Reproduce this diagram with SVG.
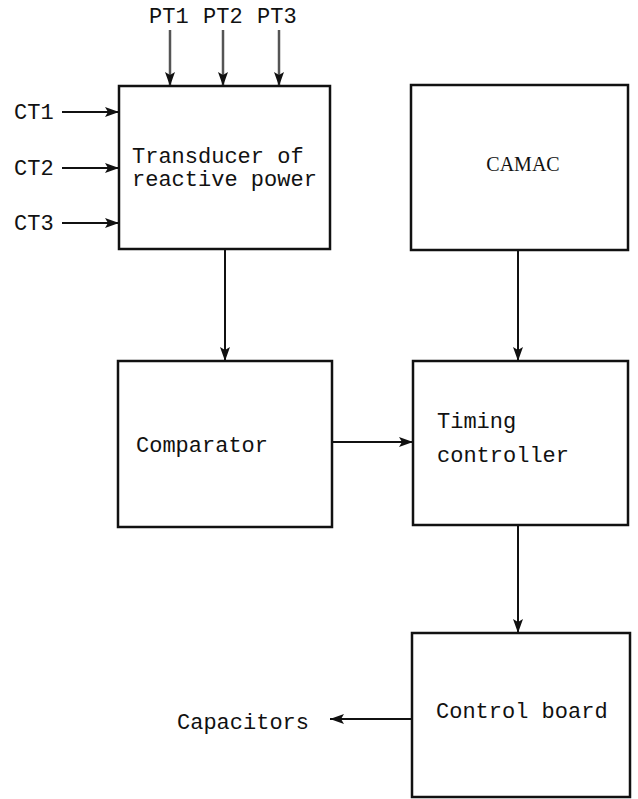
<svg xmlns="http://www.w3.org/2000/svg" width="638" height="799" viewBox="0 0 638 799">
<defs>
<style>
.box{fill:#fff;stroke:#111;stroke-width:2.5}
.ln{stroke:#111;stroke-width:2;fill:none}
.pt{stroke:#555;stroke-width:2.5;fill:none}
.t{font-family:"Liberation Mono","Courier New",monospace;font-size:22px;fill:#111}
.s{font-family:"Liberation Serif","Times New Roman",serif;font-size:20px;fill:#111}
</style>
<marker id="ah" viewBox="0 0 14 10" refX="14" refY="5" markerWidth="14" markerHeight="10" markerUnits="userSpaceOnUse" orient="auto">
<path d="M0,0 L14,5 L0,10 L3,5 Z" fill="#111"/>
</marker>
</defs>
<rect width="638" height="799" fill="#fff"/>
<g id="connectors">
<line class="pt" x1="170" y1="30" x2="170" y2="86" marker-end="url(#ah)"/>
<line class="pt" x1="223" y1="30" x2="223" y2="86" marker-end="url(#ah)"/>
<line class="pt" x1="279" y1="30" x2="279" y2="86" marker-end="url(#ah)"/>
<line class="ln" x1="62" y1="112" x2="119" y2="112" marker-end="url(#ah)"/>
<line class="ln" x1="62" y1="168" x2="119" y2="168" marker-end="url(#ah)"/>
<line class="ln" x1="62" y1="223" x2="119" y2="223" marker-end="url(#ah)"/>
<line class="ln" x1="225" y1="249" x2="225" y2="361" marker-end="url(#ah)"/>
<line class="ln" x1="518" y1="250" x2="518" y2="361" marker-end="url(#ah)"/>
<line class="ln" x1="332" y1="442" x2="413" y2="442" marker-end="url(#ah)"/>
<line class="ln" x1="518" y1="525" x2="518" y2="633" marker-end="url(#ah)"/>
<line class="ln" x1="412" y1="719" x2="330" y2="719" marker-end="url(#ah)"/>
</g>
<g id="labels">
<text class="t" x="149" y="23">PT1</text>
<text class="t" x="203" y="23">PT2</text>
<text class="t" x="257" y="23">PT3</text>
<text class="t" x="14" y="119">CT1</text>
<text class="t" x="14" y="175">CT2</text>
<text class="t" x="14" y="230">CT3</text>
<text class="t" x="177" y="729">Capacitors</text>
</g>
<g id="transducer">
<rect class="box" x="119" y="86" width="211" height="163"/>
<text class="t" x="132" y="163">Transducer of</text>
<text class="t" x="132" y="186">reactive power</text>
</g>
<g id="camac">
<rect class="box" x="411" y="85" width="217" height="165"/>
<text class="s" x="523" y="171" text-anchor="middle">CAMAC</text>
</g>
<g id="comparator">
<rect class="box" x="118" y="361" width="214" height="166"/>
<text class="t" x="136" y="452">Comparator</text>
</g>
<g id="timing">
<rect class="box" x="413" y="361" width="215" height="164"/>
<text class="t" x="437" y="428">Timing</text>
<text class="t" x="437" y="462">controller</text>
</g>
<g id="controlboard">
<rect class="box" x="412" y="633" width="218" height="164"/>
<text class="t" x="436" y="718">Control board</text>
</g>
</svg>
